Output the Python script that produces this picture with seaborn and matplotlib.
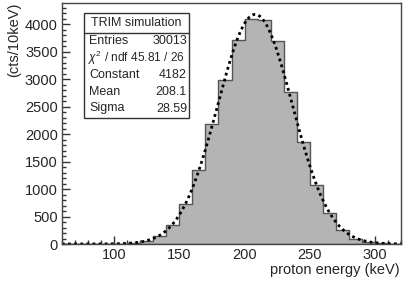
import numpy as np
import pandas as pd
import matplotlib
matplotlib.use("Agg")
import matplotlib.pyplot as plt
import seaborn as sns
from matplotlib.patches import Rectangle
from matplotlib.ticker import MultipleLocator

# ---- data ----
bin_edges = list(range(60, 330, 10))
counts = [0, 0, 0, 0, 2, 10, 51, 150, 350, 721, 1341, 2193, 2984, 3708,
          4091, 4078, 3690, 2762, 1850, 1067, 556, 259, 85, 33, 15, 5]
fit_constant = 4182
fit_mean = 208.1
fit_sigma = 28.59
stats_labels = ["Entries", r"$\chi^2$ / ndf", "Constant", "Mean", "Sigma"]
stats_values = ["30013", "45.81 / 26", "4182", "208.1", "28.59"]
stats_title = "TRIM simulation"
x_label = "proton energy (keV)"
y_label = "(cts/10keV)"

sns.set_style("white")
plt.rcParams['font.family'] = ['Liberation Sans', 'DejaVu Sans']
plt.rcParams['mathtext.fontset'] = 'custom'
plt.rcParams['mathtext.rm'] = 'Liberation Sans'
plt.rcParams['mathtext.it'] = 'Liberation Sans:italic'

fig = plt.figure(figsize=(4.07, 2.82), dpi=100)
W, H = 407, 282
ax = fig.add_axes([62 / W, 1 - 244 / H, (401 - 62) / W, (244 - 3) / H])

centers = [e + 5 for e in bin_edges[:-1]]
df = pd.DataFrame({"energy": centers, "counts": counts})
sns.histplot(data=df, x="energy", weights="counts", bins=bin_edges,
             element="step", fill=True, color="#b4b4b4", alpha=1,
             edgecolor="#555555", linewidth=1.0, ax=ax)

xs = np.linspace(60, 320, 600)
ys = fit_constant * np.exp(-0.5 * ((xs - fit_mean) / fit_sigma) ** 2)
sns.lineplot(x=xs, y=ys, color="black", linewidth=2.0,
             linestyle=(0, (1, 1.2)), ax=ax)

ax.set_xlim(60, 320)
ax.set_ylim(0, 4390)
ax.set_xlabel("")
ax.set_ylabel("")
ax.xaxis.set_major_locator(MultipleLocator(50))
ax.xaxis.set_minor_locator(MultipleLocator(10))
ax.yaxis.set_major_locator(MultipleLocator(500))
ax.yaxis.set_minor_locator(MultipleLocator(100))
ax.tick_params(axis="both", which="major", direction="in", length=6,
               width=1, color="#333333", labelsize=10.5, pad=3,
               bottom=True, left=True, top=False, right=False)
ax.tick_params(axis="both", which="minor", direction="in", length=3,
               width=1, color="#333333",
               bottom=True, left=True, top=False, right=False)
for s in ax.spines.values():
    s.set_color("#444444")
    s.set_linewidth(1)

fig.text(400 / W, 1 - 270 / H, x_label, ha="right", va="center", fontsize=10.5)
fig.text(14 / W, 1 - 3 / H, y_label, ha="center", va="top", rotation=90,
         fontsize=10.5)

# stats box
bx0, bx1, by0, by1 = 84, 189, 13, 118
fig.patches.append(Rectangle((bx0 / W, 1 - by1 / H), (bx1 - bx0) / W,
                             (by1 - by0) / H, transform=fig.transFigure,
                             facecolor="white", edgecolor="#333333",
                             linewidth=1, zorder=5))
fig.lines.append(plt.Line2D([bx0 / W, bx1 / W], [1 - 32.5 / H, 1 - 32.5 / H],
                            transform=fig.transFigure, color="#333333",
                            linewidth=1, zorder=6))
fs = 9.0
fig.text((bx0 + bx1) / 2 / W, 1 - 22.5 / H, stats_title, ha="center",
         va="center", fontsize=fs, zorder=7)
row_y = [40.5, 57.5, 75.5, 92, 108.5]
for i, (lab, val, yy) in enumerate(zip(stats_labels, stats_values, row_y)):
    if i == 1:
        fig.text(88 / W, 1 - yy / H, lab + " " + val, ha="left", va="center",
                 fontsize=fs - 0.4, zorder=7)
        continue
    fig.text(89 / W, 1 - yy / H, lab, ha="left", va="center", fontsize=fs,
             zorder=7)
    fig.text(187 / W, 1 - yy / H, val, ha="right", va="center", fontsize=fs,
             zorder=7)

fig.savefig("out.png", dpi=100)
